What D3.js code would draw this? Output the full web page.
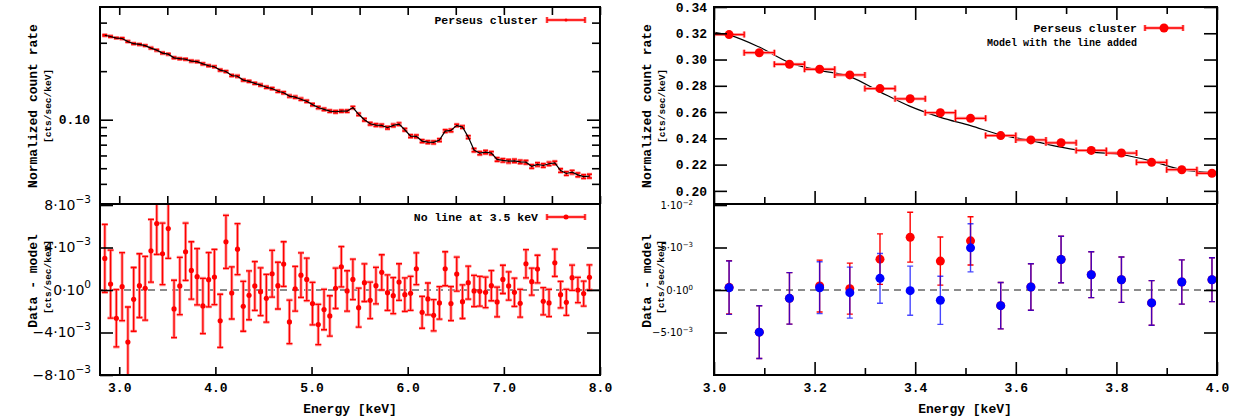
<!DOCTYPE html>
<html>
<head>
<meta charset="utf-8">
<script src="https://cdn.jsdelivr.net/npm/d3@7"></script>
<style>body{margin:0;background:#fff}</style>
</head>
<body>
<div id="chart"></div>
<script>
// ---- full band, 2.8 - 8.0 keV (bin centres) ----
const energy = [2.85, 2.91, 2.97, 3.03, 3.09, 3.15, 3.21, 3.27, 3.33, 3.39,
  3.45, 3.51, 3.57, 3.63, 3.69, 3.75, 3.81, 3.87, 3.93, 3.99,
  4.05, 4.11, 4.17, 4.23, 4.29, 4.35, 4.41, 4.47, 4.53, 4.59,
  4.65, 4.71, 4.77, 4.83, 4.89, 4.95, 5.01, 5.07, 5.13, 5.19,
  5.25, 5.31, 5.37, 5.43, 5.49, 5.55, 5.61, 5.67, 5.73, 5.79,
  5.85, 5.91, 5.97, 6.03, 6.09, 6.15, 6.21, 6.27, 6.33, 6.39,
  6.45, 6.51, 6.57, 6.63, 6.69, 6.75, 6.81, 6.87, 6.93, 6.99,
  7.05, 7.11, 7.17, 7.23, 7.29, 7.35, 7.41, 7.47, 7.53, 7.59,
  7.65, 7.71, 7.77, 7.83, 7.89];
// normalized count rate, cts/sec/keV
const rate = [0.334, 0.328, 0.321, 0.319, 0.305, 0.296, 0.293, 0.288, 0.278, 0.270,
  0.259, 0.255, 0.242, 0.239, 0.237, 0.231, 0.229, 0.222, 0.216, 0.213,
  0.203, 0.199, 0.188, 0.186, 0.176, 0.173, 0.168, 0.164, 0.159, 0.156,
  0.150, 0.147, 0.140, 0.138, 0.134, 0.130, 0.124, 0.119, 0.116, 0.113,
  0.112, 0.113, 0.113, 0.119, 0.108, 0.100, 0.0944, 0.0926, 0.0922, 0.0892,
  0.0922, 0.0939, 0.0866, 0.0791, 0.0788, 0.0737, 0.0726, 0.0723, 0.0747, 0.0850,
  0.0858, 0.0922, 0.0900, 0.0780, 0.0648, 0.0620, 0.0629, 0.0620, 0.0567, 0.0559,
  0.0553, 0.0556, 0.0548, 0.0545, 0.0513, 0.0528, 0.0520, 0.0533, 0.0540, 0.0484,
  0.0464, 0.0473, 0.0455, 0.0444, 0.0447];
// data - model, in units of 1e-3 cts/sec/keV
const resid = [2.97, 0.56, -2.66, 0.31, -4.9, -0.88, 0.41, 0.16, 3.69, 6.25,
  3.4, 5.78, -1.78, 0.38, 3.6, 1.84, 1.25, -1.5, 0.97, 1.22,
  -2.9, 4.53, -0.28, 3.84, -1.53, -0.5, 0.38, -0.16, -0.78, 1.53,
  0.41, 2.44, -3.0, 0.12, 1.4, 1.0, -1.28, -3.25, -1.84, -2.44,
  0.16, 2.19, -0.09, 1.0, -1.66, 0.69, -0.97, 0.41, 1.66, -0.25,
  -0.53, 0.75, -0.44, -0.31, 2.0, -2.1, -0.84, -2.38, -1.22, 2.0,
  -1.28, 1.5, -1.1, 0.69, -0.09, -0.12, -0.22, 0.41, -1.12, 1.0,
  0.38, -0.22, -1.25, 2.47, 0.78, 1.97, -1.06, -1.22, 2.56, -0.44,
  -1.16, 1.16, 0.0, -0.34, 1.19];
const residErr = [3.2, 3.2, 2.7, 3.2, 3.3, 3.0, 3.0, 3.0, 2.95, 2.9,
  2.9, 2.8, 2.7, 2.7, 2.7, 2.7, 2.65, 2.6, 2.55, 2.6,
  2.5, 2.5, 2.45, 2.4, 2.35, 2.3, 2.3, 2.25, 2.25, 2.2,
  2.2, 2.1, 2.05, 2.1, 2.1, 2.0, 2.0, 1.9, 1.9, 1.9,
  1.9, 1.9, 1.9, 1.9, 1.83, 1.77, 1.72, 1.72, 1.66, 1.67,
  1.7, 1.72, 1.58, 1.6, 1.5, 1.5, 1.5, 1.47, 1.53, 1.6,
  1.6, 1.6, 1.58, 1.55, 1.47, 1.4, 1.44, 1.42, 1.4, 1.33,
  1.33, 1.33, 1.31, 1.33, 1.27, 1.3, 1.28, 1.28, 1.28, 1.25,
  1.22, 1.19, 1.19, 1.17, 1.17];

// ---- zoom on 3.0 - 4.0 keV ----
const zoomE = [3.03, 3.09, 3.15, 3.21, 3.27, 3.33, 3.39, 3.45, 3.51,
  3.57, 3.63, 3.69, 3.75, 3.81, 3.87, 3.93, 3.99];
const zoomRate = [0.319, 0.3052, 0.2964, 0.2926, 0.2883, 0.2779, 0.2701, 0.2595, 0.2552,
  0.2421, 0.2388, 0.2366, 0.2308, 0.2288, 0.2217, 0.2161, 0.2134];
const modelE = [3.0, 3.03, 3.09, 3.15, 3.21, 3.27, 3.33, 3.39, 3.45, 3.51,
  3.57, 3.63, 3.69, 3.75, 3.81, 3.87, 3.93, 3.99, 4.0];
const modelRate = [0.3208, 0.3186, 0.3095, 0.2976, 0.2918, 0.2870, 0.2754, 0.2643, 0.2560, 0.2497,
  0.2426, 0.2383, 0.2333, 0.2295, 0.2277, 0.2227, 0.2161, 0.2139, 0.2136];
// residuals, 1e-3 cts/sec/keV : red = no line, blue = line added
const noLineRes = [0.31, -4.96, -0.98, 0.47, 0.16, 3.63, 6.21, 3.4, 5.78,
  -1.84, 0.35, 3.59, 1.8, 1.21, -1.52, 0.94, 1.21];
const noLineErr = [3.14, 3.1, 3.03, 3.05, 3.0, 2.97, 2.93, 2.83, 2.83,
  2.73, 2.73, 2.73, 2.7, 2.67, 2.62, 2.6, 2.58];
const withLineRes = [0.27, -4.96, -0.98, 0.27, -0.31, 1.37, -0.08, -1.21, 4.96,
  -1.84, 0.35, 3.59, 1.8, 1.21, -1.52, 0.94, 1.21];
const withLineErr = [3.14, 3.1, 3.03, 3.05, 3.0, 2.93, 2.89, 2.83, 2.83,
  2.73, 2.73, 2.73, 2.7, 2.67, 2.62, 2.6, 2.58];

// ---- ticks ----
const xTicksL = [3, 3.5, 4, 4.5, 5, 5.5, 6, 6.5, 7, 7.5, 8];
const xLabelsL = [3, 4, 5, 6, 7, 8];
const logMajor = [0.1];
const logMinor = [0.04, 0.05, 0.06, 0.07, 0.08, 0.09, 0.2, 0.3, 0.4];
const resTicksL = [8, 4, 0, -4, -8];
const resLabelsL = [["8·10", "−3"], ["4·10", "−3"], ["0·10", "0"], ["−4·10", "−3"], ["−8·10", "−3"]];
const xMajorR = [3.0, 3.2, 3.4, 3.6, 3.8, 4.0];
const xMinorR = [3.1, 3.3, 3.5, 3.7, 3.9];
const rateTicksR = [0.20, 0.22, 0.24, 0.26, 0.28, 0.30, 0.32, 0.34];
const resTicksR = [10, 5, 0, -5];
const resLabelsR = [["1·10", "−2"], ["5·10", "−3"], ["0·10", "0"], ["−5·10", "−3"]];

const mono = "'Liberation Mono', 'Courier New', monospace";
const svg = d3.select("#chart").append("svg").attr("width", 1236).attr("height", 417);

// scales
const xL = d3.scaleLinear().domain([2.8, 8.0]).range([100, 600]);
const yTL = d3.scaleLog().domain([0.03, 0.5]).range([204, 7]);
const yBL = d3.scaleLinear().domain([-8, 8]).range([375, 205]);
const xR = d3.scaleLinear().domain([3.0, 4.0]).range([714, 1217]);
const yTR = d3.scaleLinear().domain([0.19, 0.34]).range([204, 7]);
const yBR = d3.scaleLinear().domain([-10, 10]).range([375, 205]);

// clip paths
const defs = svg.append("defs");
function clip(id, x0, x1, y0, y1) {
  defs.append("clipPath").attr("id", id).append("rect")
      .attr("x", x0).attr("y", y0).attr("width", x1 - x0).attr("height", y1 - y0);
}
clip("cTL", 100, 600, 7, 204);
clip("cBL", 100, 600, 204, 375);
clip("cTR", 714, 1217, 7, 204);
clip("cBR", 714, 1217, 204, 375);

function axis(gen, scale, vals, size, tx, ty, fmt, pad) {
  const g = svg.append("g").attr("transform", `translate(${tx},${ty})`)
    .call(gen(scale).tickValues(vals).tickSizeInner(-size).tickSizeOuter(0)
      .tickPadding(pad || 8).tickFormat(fmt || (() => "")));
  g.select(".domain").remove();
  g.selectAll(".tick line").attr("stroke", "#000").attr("stroke-width", 1.6);
  g.attr("font-family", mono).attr("font-size", 13).attr("font-weight", "bold");
  g.selectAll(".tick text").attr("fill", "#000");
  return g;
}
// mantissa·10 with a raised exponent
function supLabels(g, labels, size, supSize, rise) {
  g.attr("font-family", "'DejaVu Sans', sans-serif").attr("font-weight", "normal");
  g.selectAll(".tick text").each(function(d, i) {
    const t = d3.select(this).text(null).attr("font-size", size);
    t.append("tspan").text(labels[i][0]);
    t.append("tspan").attr("dy", -size * rise).attr("font-size", supSize).text(labels[i][1]);
  });
}
function frame(x0, x1, y0, y1) {
  svg.append("rect").attr("x", x0).attr("y", y0).attr("width", x1 - x0).attr("height", y1 - y0)
     .attr("fill", "none").attr("stroke", "#000").attr("stroke-width", 2);
}
function vbar(x, y1, y2, cap) {
  return `M${x},${y1}V${y2}M${x - cap},${y1}H${x + cap}M${x - cap},${y2}H${x + cap}`;
}
function hbar(y, x1, x2, cap) {
  return `M${x1},${y}H${x2}M${x1},${y - cap}V${y + cap}M${x2},${y - cap}V${y + cap}`;
}

// ===== top left: spectrum =====
const gTL = svg.append("g").attr("clip-path", "url(#cTL)");
const idx = d3.range(energy.length);
gTL.selectAll("path.halo").data(idx).enter().append("path")
   .attr("d", i => vbar(xL(energy[i]), yTL(rate[i] + residErr[i] * 1e-3), yTL(rate[i] - residErr[i] * 1e-3), 2.5))
   .attr("stroke", "#ff9090").attr("stroke-width", 3).attr("fill", "none");
gTL.selectAll("path.err").data(idx).enter().append("path")
   .attr("d", i => vbar(xL(energy[i]), yTL(rate[i] + residErr[i] * 1e-3), yTL(rate[i] - residErr[i] * 1e-3), 2.5))
   .attr("stroke", "#f00").attr("stroke-width", 1.4).attr("fill", "none");
gTL.append("path")
   .attr("d", d3.line().x(i => xL(energy[i])).y(i => yTL(rate[i]))(idx))
   .attr("fill", "none").attr("stroke", "#000").attr("stroke-width", 1.2);

axis(d3.axisTop, xL, xTicksL, 8, 0, 7);
axis(d3.axisBottom, xL, xTicksL, 8, 0, 204);
axis(d3.axisLeft, yTL, logMajor, 13, 100, 0, d3.format(".2f"), 10);
axis(d3.axisLeft, yTL, logMinor, 7, 100, 0);
axis(d3.axisRight, yTL, logMajor, 13, 600, 0);
axis(d3.axisRight, yTL, logMinor, 8, 600, 0);
frame(100, 600, 7, 204);

// ===== bottom left: residuals =====
const gBL = svg.append("g").attr("clip-path", "url(#cBL)");
gBL.append("line").attr("x1", 100).attr("x2", 600).attr("y1", yBL(0)).attr("y2", yBL(0))
   .attr("stroke", "#666").attr("stroke-width", 1.6).attr("stroke-dasharray", "7,5");
gBL.selectAll("path.halo").data(idx).enter().append("path")
   .attr("d", i => vbar(xL(energy[i]), yBL(resid[i] + residErr[i]), yBL(resid[i] - residErr[i]), 3))
   .attr("stroke", "#ff9a9a").attr("stroke-width", 3).attr("fill", "none");
gBL.selectAll("path.err").data(idx).enter().append("path")
   .attr("d", i => vbar(xL(energy[i]), yBL(resid[i] + residErr[i]), yBL(resid[i] - residErr[i]), 3))
   .attr("stroke", "#f00").attr("stroke-width", 1.3).attr("fill", "none");
gBL.selectAll("circle").data(idx).enter().append("circle")
   .attr("cx", i => xL(energy[i])).attr("cy", i => yBL(resid[i])).attr("r", 2.6).attr("fill", "#f00");

axis(d3.axisBottom, xL, xLabelsL, 8, 0, 375, d3.format(".1f"), 8);
supLabels(axis(d3.axisLeft, yBL, resTicksL, 13, 100, 0, d => d, 9), resLabelsL, 14, 10.5, 0.5);
axis(d3.axisRight, yBL, [4, 0, -4], 13, 600, 0);
frame(100, 600, 204, 375);

// ===== top right: zoomed spectrum =====
const zi = d3.range(zoomE.length);
const gTR = svg.append("g").attr("clip-path", "url(#cTR)");
gTR.append("path")
   .attr("d", d3.line().curve(d3.curveMonotoneX).x((d, i) => xR(modelE[i])).y(d => yTR(d))(modelRate))
   .attr("fill", "none").attr("stroke", "#000").attr("stroke-width", 1.2);
gTR.selectAll("path.halo").data(zi).enter().append("path")
   .attr("d", i => hbar(yTR(zoomRate[i]), xR(zoomE[i] - 0.03), xR(zoomE[i] + 0.03), 3))
   .attr("stroke", "#ff9a9a").attr("stroke-width", 3).attr("fill", "none");
gTR.selectAll("path.err").data(zi).enter().append("path")
   .attr("d", i => hbar(yTR(zoomRate[i]), xR(zoomE[i] - 0.03), xR(zoomE[i] + 0.03), 3))
   .attr("stroke", "#f00").attr("stroke-width", 1.3).attr("fill", "none");
gTR.selectAll("circle").data(zi).enter().append("circle")
   .attr("cx", i => xR(zoomE[i])).attr("cy", i => yTR(zoomRate[i])).attr("r", 4.5).attr("fill", "#f00");

axis(d3.axisTop, xR, xMajorR, 13, 0, 7);
axis(d3.axisTop, xR, xMinorR, 7, 0, 7);
axis(d3.axisBottom, xR, xMajorR, 13, 0, 204);
axis(d3.axisBottom, xR, xMinorR, 7, 0, 204);
axis(d3.axisLeft, yTR, rateTicksR, 13, 714, 0, d3.format(".2f"), 7);
axis(d3.axisRight, yTR, rateTicksR, 13, 1217, 0);
frame(714, 1217, 7, 204);

// ===== bottom right: residuals with / without line =====
const gBR = svg.append("g").attr("clip-path", "url(#cBR)");
gBR.append("line").attr("x1", 714).attr("x2", 1217).attr("y1", yBR(0)).attr("y2", yBR(0))
   .attr("stroke", "#666").attr("stroke-width", 1.6).attr("stroke-dasharray", "7,5");
gBR.selectAll("path.red").data(zi).enter().append("path")
   .attr("d", i => vbar(xR(zoomE[i]), yBR(noLineRes[i] + noLineErr[i]), yBR(noLineRes[i] - noLineErr[i]), 3))
   .attr("stroke", "#f00").attr("stroke-width", 1.4).attr("fill", "none");
gBR.selectAll("circle.red").data(zi).enter().append("circle")
   .attr("cx", i => xR(zoomE[i])).attr("cy", i => yBR(noLineRes[i])).attr("r", 4.5).attr("fill", "#f00");
gBR.selectAll("path.blue").data(zi).enter().append("path")
   .attr("d", i => vbar(xR(zoomE[i]), yBR(withLineRes[i] + withLineErr[i]), yBR(withLineRes[i] - withLineErr[i]), 3))
   .attr("stroke", "#00f").attr("stroke-opacity", 0.72).attr("stroke-width", 1.4).attr("fill", "none");
gBR.selectAll("circle.blue").data(zi).enter().append("circle")
   .attr("cx", i => xR(zoomE[i])).attr("cy", i => yBR(withLineRes[i])).attr("r", 4.5).attr("fill", "#00f");

axis(d3.axisBottom, xR, xMajorR, 13, 0, 375, d3.format(".1f"), 8);
axis(d3.axisBottom, xR, xMinorR, 7, 0, 375);
supLabels(axis(d3.axisLeft, yBR, resTicksR, 13, 714, 0, d => d, 21), resLabelsR, 10, 7, 0.4);
axis(d3.axisRight, yBR, [5, 0, -5], 13, 1217, 0);
frame(714, 1217, 204, 375);

// ===== axis titles =====
function title(x, y, txt, size, rot) {
  svg.append("text").attr("transform", `translate(${x},${y})` + (rot ? " rotate(-90)" : ""))
     .attr("text-anchor", "middle").attr("dy", rot ? "0.35em" : 0)
     .attr("font-family", mono).attr("font-weight", "bold").attr("font-size", size)
     .text(txt);
}
title(32, 106, "Normalized count rate", 13, true);
title(47.5, 106, "[cts/sec/keV]", 9.5, true);
title(32, 281, "Data - model", 13, true);
title(47.5, 277, "[cts/sec/keV]", 9.5, true);
title(646, 106, "Normalized count rate", 13, true);
title(661.5, 106, "[cts/sec/keV]", 9.5, true);
title(646, 281, "Data - model", 13, true);
title(660.5, 277, "[cts/sec/keV]", 9.5, true);
title(350, 413, "Energy [keV]", 13, false);
title(965, 413, "Energy [keV]", 13, false);

// ===== legends =====
function legend(xText, y, txt, size, x1, x2, r) {
  svg.append("text").attr("x", xText).attr("y", y + 4).attr("text-anchor", "end")
     .attr("font-family", mono).attr("font-weight", "bold").attr("font-size", size).text(txt);
  svg.append("path").attr("d", hbar(y, x1, x2, 3)).attr("stroke", "#ff9a9a").attr("stroke-width", 3).attr("fill", "none");
  svg.append("path").attr("d", hbar(y, x1, x2, 3)).attr("stroke", "#f00").attr("stroke-width", 1.3).attr("fill", "none");
  svg.append("circle").attr("cx", (x1 + x2) / 2).attr("cy", y).attr("r", r).attr("fill", "#f00");
}
legend(538, 20, "Perseus cluster", 11.5, 547, 585, 1.5);
legend(538, 217, "No line at 3.5 keV", 11.5, 547, 585, 2.5);
legend(1137, 28, "Perseus cluster", 11.5, 1145, 1183, 4.5);
svg.append("text").attr("x", 1137).attr("y", 46).attr("text-anchor", "end")
   .attr("font-family", mono).attr("font-weight", "bold").attr("font-size", 10)
   .text("Model with the line added");
</script>
</body>
</html>
